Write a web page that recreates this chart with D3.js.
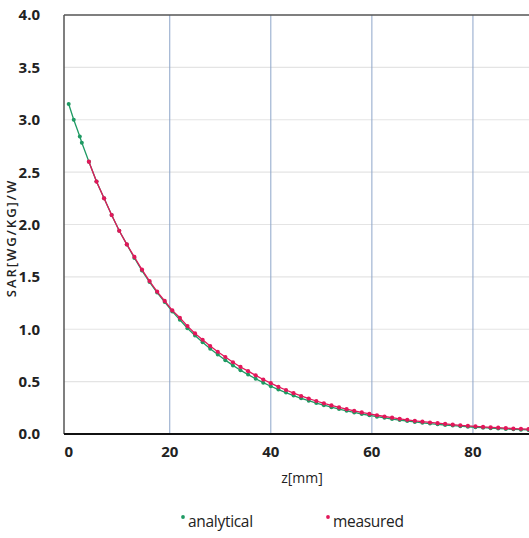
<!DOCTYPE html>
<html>
<head>
<meta charset="utf-8">
<script src="https://cdn.jsdelivr.net/npm/d3@7/dist/d3.min.js"></script>
<style>
  html, body { margin: 0; padding: 0; background: #fff; }
  svg { display: block; }
  text { font-family: "Open Sans", "DejaVu Sans", sans-serif; fill: #222; }
</style>
</head>
<body>
<svg id="chart" width="529" height="538"></svg>
<script>
// ---- data ----
const analyticalZ = [0, 1, 2.2, 2.6, 4, 5.5, 7, 8.5, 10, 11.5, 13, 14.5, 16, 17.5, 19, 20.5, 22, 23.5, 25, 26.5, 28, 29.5, 31, 32.5, 34, 35.5, 37, 38.5, 40, 41.5, 43, 44.5, 46, 47.5, 49, 50.5, 52, 53.5, 55, 56.5, 58, 59.5, 61, 62.5, 64, 65.5, 67, 68.5, 70, 71.5, 73, 74.5, 76, 77.5, 79, 80.5, 82, 83.5, 85, 86.5, 88, 89.5, 91, 92.5];
const analyticalSAR = [3.15, 3.00, 2.84, 2.78, 2.60, 2.41, 2.25, 2.09, 1.94, 1.81, 1.68, 1.56, 1.45, 1.35, 1.26, 1.17, 1.09, 1.01, 0.94, 0.876, 0.814, 0.758, 0.705, 0.655, 0.609, 0.567, 0.527, 0.490, 0.456, 0.424, 0.395, 0.367, 0.341, 0.318, 0.295, 0.275, 0.256, 0.238, 0.221, 0.206, 0.191, 0.178, 0.165, 0.154, 0.143, 0.133, 0.124, 0.115, 0.107, 0.0996, 0.0926, 0.0861, 0.080, 0.0745, 0.0693, 0.0645, 0.060, 0.0558, 0.0519, 0.0483, 0.0449, 0.0417, 0.0388, 0.0361];
const measuredZ = [4, 5.5, 7, 8.5, 10, 11.5, 13, 14.5, 16, 17.5, 19, 20.5, 22, 23.5, 25, 26.5, 28, 29.5, 31, 32.5, 34, 35.5, 37, 38.5, 40, 41.5, 43, 44.5, 46, 47.5, 49, 50.5, 52, 53.5, 55, 56.5, 58, 59.5, 61, 62.5, 64, 65.5, 67, 68.5, 70, 71.5, 73, 74.5, 76, 77.5, 79, 80.5, 82, 83.5, 85, 86.5, 88, 89.5, 91, 92.5];
const measuredSAR = [2.60, 2.41, 2.25, 2.09, 1.94, 1.81, 1.69, 1.57, 1.46, 1.36, 1.27, 1.18, 1.11, 1.03, 0.96, 0.90, 0.84, 0.785, 0.735, 0.685, 0.64, 0.60, 0.56, 0.52, 0.485, 0.45, 0.42, 0.39, 0.363, 0.338, 0.315, 0.293, 0.273, 0.254, 0.237, 0.221, 0.206, 0.192, 0.179, 0.167, 0.156, 0.145, 0.135, 0.126, 0.118, 0.110, 0.103, 0.096, 0.089, 0.083, 0.078, 0.073, 0.068, 0.064, 0.060, 0.056, 0.052, 0.049, 0.046, 0.043];
const xTicks = [0, 20, 40, 60, 80];
const yTicks = [0, 0.5, 1.0, 1.5, 2.0, 2.5, 3.0, 3.5, 4.0];
const seriesNames = ["analytical", "measured"];
const seriesColors = ["#1f9a63", "#e2175a"];
const xLabel = "z[mm]";
const yLabel = "SAR[WG/KG]/W";

// ---- layout ----
const svg = d3.select("#chart");
const pLeft = 64, pTop = 15, pBottom = 434, pRight = 574, W = 529;
const x = d3.scaleLinear().domain([-0.93, 100]).range([pLeft, pRight]);
const y = d3.scaleLinear().domain([0, 4]).range([pBottom, pTop]);

svg.append("defs").append("clipPath").attr("id", "plotclip")
  .append("rect").attr("x", pLeft).attr("y", pTop - 2).attr("width", W - pLeft).attr("height", pBottom - pTop + 4);

// horizontal gridlines
svg.append("g").selectAll("line").data(yTicks.filter(d => d > 0 && d < 4)).join("line")
  .attr("x1", pLeft).attr("x2", W).attr("y1", d => y(d)).attr("y2", d => y(d))
  .attr("stroke", "#e4e4e4").attr("stroke-width", 1.2);
// vertical gridlines
svg.append("g").selectAll("line").data(xTicks.filter(d => d > 0)).join("line")
  .attr("x1", d => x(d)).attr("x2", d => x(d)).attr("y1", pTop).attr("y2", pBottom)
  .attr("stroke", "#8da5c9").attr("stroke-width", 1);

// borders
svg.append("line").attr("x1", pLeft).attr("x2", W).attr("y1", pTop).attr("y2", pTop)
  .attr("stroke", "#555").attr("stroke-width", 1.5);
svg.append("line").attr("x1", pLeft).attr("x2", pLeft).attr("y1", pTop).attr("y2", pBottom)
  .attr("stroke", "#555").attr("stroke-width", 1.5);

// series
const plot = svg.append("g").attr("clip-path", "url(#plotclip)");
const line = d3.line().x(d => x(d[0])).y(d => y(d[1]));
const aData = analyticalZ.map((z, i) => [z, analyticalSAR[i]]);
const mData = measuredZ.map((z, i) => [z, measuredSAR[i]]);

plot.append("path").datum(aData).attr("d", line).attr("fill", "none")
  .attr("stroke", seriesColors[0]).attr("stroke-width", 1.3);
plot.append("g").selectAll("circle").data(aData).join("circle")
  .attr("cx", d => x(d[0])).attr("cy", d => y(d[1])).attr("r", 2)
  .attr("fill", seriesColors[0]);
plot.append("path").datum(mData).attr("d", line).attr("fill", "none")
  .attr("stroke", seriesColors[1]).attr("stroke-width", 1.3);
plot.append("g").selectAll("circle").data(mData).join("circle")
  .attr("cx", d => x(d[0])).attr("cy", d => y(d[1])).attr("r", 2.1)
  .attr("fill", seriesColors[1]);

// bottom axis line
svg.append("line").attr("x1", pLeft).attr("x2", W).attr("y1", pBottom).attr("y2", pBottom)
  .attr("stroke", "#111").attr("stroke-width", 2);

// tick labels
svg.append("g").selectAll("text").data(yTicks).join("text")
  .attr("x", 40).attr("y", d => y(d)).attr("dy", "0.36em")
  .attr("text-anchor", "end").attr("font-size", 15).attr("font-weight", 700)
  .text(d => d3.format(".1f")(d));
svg.append("g").selectAll("text").data(xTicks).join("text")
  .attr("x", d => x(d)).attr("y", 457)
  .attr("text-anchor", "middle").attr("font-size", 15).attr("font-weight", 700)
  .text(d => d);

// axis titles
svg.append("text").attr("x", 302).attr("y", 483).attr("text-anchor", "middle")
  .attr("font-size", 14).text(xLabel);
svg.append("text").attr("transform", "translate(16,238) rotate(-90)")
  .attr("text-anchor", "middle").attr("font-size", 13).attr("font-weight", 600)
  .attr("letter-spacing", 2).text(yLabel);

// legend
const legendX = [188, 333];
const lg = svg.append("g").selectAll("g").data(seriesNames).join("g")
  .attr("transform", (d, i) => `translate(${legendX[i]},527)`);
lg.append("circle").attr("cx", -5).attr("cy", -10).attr("r", 1.9)
  .attr("fill", (d, i) => seriesColors[i]);
lg.append("text").attr("x", 0).attr("y", 0).attr("font-size", 15.5)
  .attr("letter-spacing", -0.3).text(d => d);
</script>
</body>
</html>
